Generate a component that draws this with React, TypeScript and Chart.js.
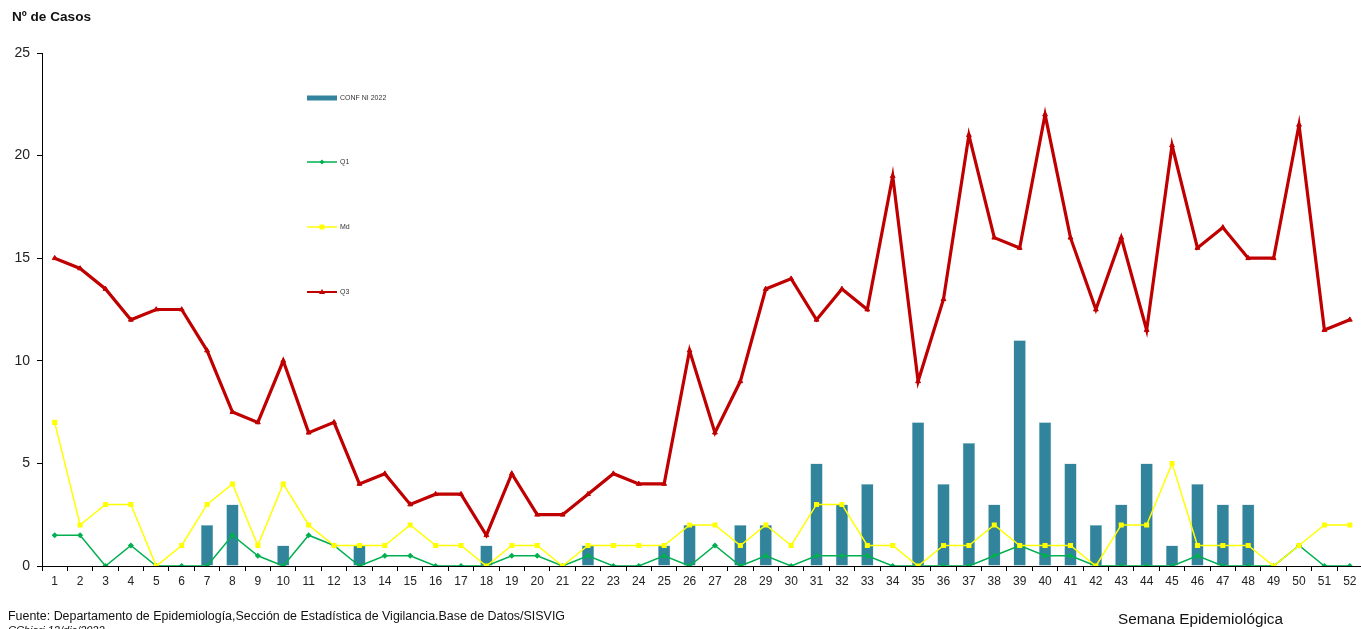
import React, { useEffect, useRef } from "react";
import { Chart, registerables } from "chart.js";

Chart.register(...registerables);

const weeks: string[] = Array.from({ length: 52 }, (_, i) => String(i + 1));

const confNI2022: number[] = [
  0, 0, 0, 0, 0, 0, 2, 3, 0, 1, 0, 0, 1, 0, 0, 0, 0, 1, 0, 0, 0, 1, 0, 0, 1, 2,
  0, 2, 2, 0, 5, 3, 4, 0, 7, 4, 6, 3, 11, 7, 5, 2, 3, 5, 1, 4, 3, 3, 0, 0, 0, 0,
];

const q1: number[] = [
  1.5, 1.5, 0, 1, 0, 0, 0, 1.5, 0.5, 0, 1.5, 1, 0, 0.5, 0.5, 0, 0, 0, 0.5, 0.5,
  0, 0.5, 0, 0, 0.5, 0, 1, 0, 0.5, 0, 0.5, 0.5, 0.5, 0, 0, 0, 0, 0.5, 1, 0.5,
  0.5, 0, 0, 0, 0, 0.5, 0, 0, 0, 1, 0, 0,
];

const md: number[] = [
  7, 2, 3, 3, 0, 1, 3, 4, 1, 4, 2, 1, 1, 1, 2, 1, 1, 0, 1, 1, 0, 1, 1, 1, 1, 2,
  2, 1, 2, 1, 3, 3, 1, 1, 0, 1, 1, 2, 1, 1, 1, 0, 2, 2, 5, 1, 1, 1, 0, 1, 2, 2,
];

const q3: number[] = [
  15, 14.5, 13.5, 12, 12.5, 12.5, 10.5, 7.5, 7, 10, 6.5, 7, 4, 4.5, 3, 3.5, 3.5,
  1.5, 4.5, 2.5, 2.5, 3.5, 4.5, 4, 4, 10.5, 6.5, 9, 13.5, 14, 12, 13.5, 12.5, 19,
  9, 13, 21, 16, 15.5, 22, 16, 12.5, 16, 11.5, 20.5, 15.5, 16.5, 15, 15, 21.5,
  11.5, 12,
];

const yTicks: number[] = [0, 5, 10, 15, 20, 25];

const FONT = "'Liberation Sans', Arial, sans-serif";

const legendPlugin = {
  id: "customLegend",
  afterDraw(chart: any) {
    const ctx = chart.ctx as CanvasRenderingContext2D;
    const rows = [98, 162, 227, 292];
    const x0 = 307;
    const x1 = 337;
    ctx.save();
    chart.data.datasets.forEach((ds: any, i: number) => {
      const y = rows[i];
      if (ds.type === "bar") {
        ctx.fillStyle = ds.backgroundColor;
        ctx.fillRect(x0, y - 2.5, x1 - x0, 5);
      } else {
        ctx.strokeStyle = ds.borderColor;
        ctx.lineWidth = ds.borderWidth > 2 ? 2 : 1.5;
        ctx.beginPath();
        ctx.moveTo(x0, y);
        ctx.lineTo(x1, y);
        ctx.stroke();
        ctx.fillStyle = ds.pointBackgroundColor;
        const cx = (x0 + x1) / 2;
        ctx.beginPath();
        if (ds.pointStyle === "rect") {
          ctx.rect(cx - 2.5, y - 2.5, 5, 5);
        } else if (ds.pointStyle === "triangle") {
          ctx.moveTo(cx, y - 3);
          ctx.lineTo(cx + 3, y + 2);
          ctx.lineTo(cx - 3, y + 2);
          ctx.closePath();
        } else {
          ctx.moveTo(cx, y - 2.5);
          ctx.lineTo(cx + 2.5, y);
          ctx.lineTo(cx, y + 2.5);
          ctx.lineTo(cx - 2.5, y);
          ctx.closePath();
        }
        ctx.fill();
      }
      ctx.fillStyle = "#333";
      ctx.font = `7px ${FONT}`;
      ctx.textBaseline = "middle";
      ctx.textAlign = "left";
      ctx.fillText(ds.label, x1 + 3, y);
    });
    ctx.restore();
  },
};

export default function App() {
  const canvasRef = useRef<HTMLCanvasElement | null>(null);

  useEffect(() => {
    document.body.style.margin = "0";
    document.body.style.overflow = "hidden";
    const canvas = canvasRef.current;
    if (!canvas) return;
    const chart = new Chart(canvas, {
      type: "bar",
      data: {
        labels: weeks,
        datasets: [
          {
            type: "bar",
            label: "CONF NI 2022",
            data: confNI2022,
            backgroundColor: "#31849B",
            borderColor: "#9CC4D0",
            borderWidth: 0.5,
            barPercentage: 0.9,
            categoryPercentage: 0.54,
            order: 4,
          } as any,
          {
            type: "line",
            label: "Q1",
            data: q1,
            borderColor: "#00B050",
            backgroundColor: "#00B050",
            pointBackgroundColor: "#00B050",
            pointBorderColor: "#00B050",
            borderWidth: 1.5,
            pointStyle: "rectRot",
            pointRadius: 2,
            tension: 0,
            order: 2,
          } as any,
          {
            type: "line",
            label: "Md",
            data: md,
            borderColor: "#FFFF00",
            backgroundColor: "#FFFF00",
            pointBackgroundColor: "#FFFF00",
            pointBorderColor: "#FFFF00",
            borderWidth: 1.5,
            pointStyle: "rect",
            pointRadius: 2.5,
            tension: 0,
            order: 1,
          } as any,
          {
            type: "line",
            label: "Q3",
            data: q3,
            borderColor: "#C00000",
            backgroundColor: "#C00000",
            pointBackgroundColor: "#C00000",
            pointBorderColor: "#C00000",
            borderWidth: 3.2,
            pointStyle: "triangle",
            pointRadius: 2.8,
            pointBorderWidth: 1,
            tension: 0,
            order: 0,
          } as any,
        ],
      },
      options: {
        animation: false,
        responsive: false,
        maintainAspectRatio: false,
        layout: { padding: { top: 53, left: 0, right: 0, bottom: 0 } },
        plugins: {
          legend: { display: false },
          tooltip: { enabled: false },
        },
        scales: {
          x: {
            offset: true,
            grid: {
              offset: true,
              drawOnChartArea: false,
              drawTicks: true,
              tickLength: 5,
              color: "#000",
            },
            border: { display: true, color: "#000", width: 1 },
            ticks: {
              color: "#222",
              font: { family: FONT, size: 12 },
              padding: 3,
              maxRotation: 0,
              autoSkip: false,
            },
            afterFit: (scale: any) => {
              scale.height = 63;
            },
          },
          y: {
            min: 0,
            max: 25,
            afterBuildTicks: (scale: any) => {
              scale.ticks = yTicks.map((v) => ({ value: v }));
            },
            grid: {
              drawOnChartArea: false,
              drawTicks: true,
              tickLength: 5,
              color: "#000",
            },
            border: { display: true, color: "#000", width: 1 },
            ticks: {
              color: "#222",
              font: { family: FONT, size: 14 },
              padding: 7,
            },
            afterFit: (scale: any) => {
              scale.width = 42;
            },
          },
        },
      },
      plugins: [legendPlugin],
    });
    return () => chart.destroy();
  }, []);

  return (
    <div
      style={{
        position: "relative",
        width: 1361,
        height: 629,
        overflow: "hidden",
        background: "#fff",
        fontFamily: FONT,
      }}
    >
      <canvas
        ref={canvasRef}
        width={1368}
        height={629}
        style={{ position: "absolute", left: 0, top: 0, width: 1368, height: 629 }}
      />
      <div
        style={{
          position: "absolute",
          left: 12,
          top: 9,
          fontSize: 13.6,
          fontWeight: "bold",
          color: "#111",
          whiteSpace: "nowrap",
        }}
      >
        Nº de Casos
      </div>
      <div
        style={{
          position: "absolute",
          left: 1118,
          top: 610,
          fontSize: 15.3,
          color: "#111",
          whiteSpace: "nowrap",
        }}
      >
        Semana Epidemiológica
      </div>
      <div
        style={{
          position: "absolute",
          left: 8,
          top: 609,
          fontSize: 12.45,
          color: "#111",
          whiteSpace: "nowrap",
          lineHeight: "14px",
        }}
      >
        Fuente: Departamento de Epidemiología,Sección de Estadística de Vigilancia.Base de Datos/SISVIG
        <div style={{ fontSize: 11, fontStyle: "italic" }}>CChiari 12/dic/2022</div>
      </div>
    </div>
  );
}
